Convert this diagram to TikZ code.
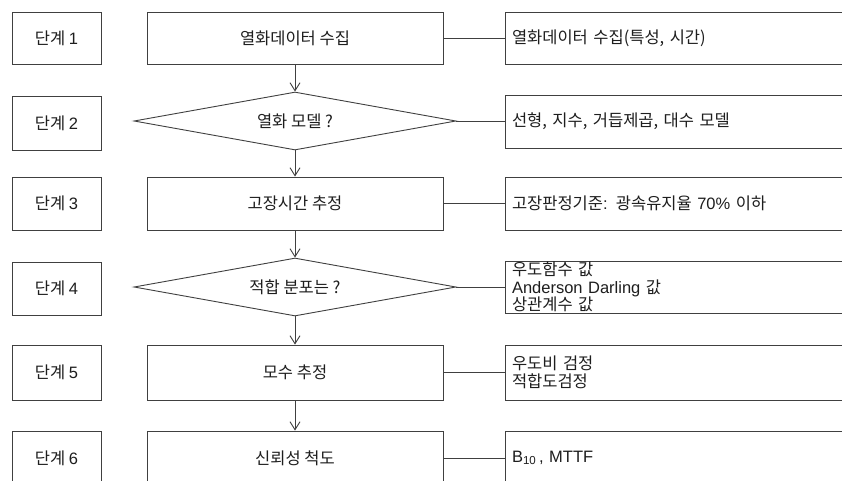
\documentclass[tikz,border=0pt]{standalone}
\usepackage{fontspec}
\setmainfont{Noto Sans CJK KR}
\newfontfamily\lat{Liberation Sans}
\usetikzlibrary{shapes.geometric,arrows.meta}
\definecolor{lc}{HTML}{404040}
\definecolor{tc}{HTML}{1E1E1E}
\begin{document}
\begin{tikzpicture}[x=1pt,y=-1pt,line width=0.9pt,
  box/.style={draw=lc,fill=white,inner sep=0pt,text=tc,font=\fontsize{16.5}{17.5}\selectfont},
  stepbox/.style={box,minimum width=89pt},
  mainbox/.style={box,minimum width=296pt},
  decision/.style={box,diamond,aspect=5.5,minimum width=322pt,minimum height=58pt},
  sidebox/.style={box,minimum width=360pt,text width=346pt,inner xsep=7pt,align=left},
  arr/.style={draw=lc,-{Straight Barb[length=8pt,width=10pt]}},
  conn/.style={draw=lc}]
\useasboundingbox (0,0) rectangle (842,480);
\clip (0,0) rectangle (842,480);
\fill[white] (0,0) rectangle (842,480);
% step boxes
\node[stepbox,minimum height=52pt] (s1) at (56.5,38) {단계 {\lat 1}};
\node[stepbox,minimum height=54pt] (s2) at (56.5,123) {단계 {\lat 2}};
\node[stepbox,minimum height=53pt] (s3) at (56.5,203.5) {단계 {\lat 3}};
\node[stepbox,minimum height=53pt] (s4) at (56.5,288.5) {단계 {\lat 4}};
\node[stepbox,minimum height=55pt] (s5) at (56.5,372.5) {단계 {\lat 5}};
\node[stepbox,minimum height=54pt] (s6) at (56.5,458) {단계 {\lat 6}};
% main column
\node[mainbox,minimum height=52pt] (m1) at (295,38) {열화데이터 수집};
\node[decision] (d2) at (295,121) {열화 모델 ?};
\node[mainbox,minimum height=53pt] (m3) at (295,203.5) {고장시간 추정};
\node[decision] (d4) at (295,287) {적합 분포는 ?};
\node[mainbox,minimum height=55pt] (m5) at (295,372.5) {모수 추정};
\node[mainbox,minimum height=54pt] (m6) at (295,458) {신뢰성 척도};
% side boxes
\node[sidebox,minimum height=52pt] (r1) at (685,38) {열화데이터 수집(특성, 시간)};
\node[sidebox,minimum height=53pt] (r2) at (685,121.5) {선형, 지수, 거듭제곱, 대수 모델};
\node[sidebox,minimum height=53pt] (r3) at (685,203.5) {고장판정기준{\lat :} 광속유지율 {\lat 70\%} 이하};
\node[sidebox,minimum height=52pt] (r4) at (685,287) {우도함수 값\\{\lat Anderson Darling} 값\\상관계수 값};
\node[sidebox,minimum height=55pt] (r5) at (685,372.5) {우도비 검정\\적합도검정};
\node[sidebox,minimum height=54pt] (r6) at (685,458) {{\lat B\textsubscript{10}\,, MTTF}};
% arrows
\draw[arr] (m1.south) -- (d2.north);
\draw[arr] (d2.south) -- (m3.north);
\draw[arr] (m3.south) -- (d4.north);
\draw[arr] (d4.south) -- (m5.north);
\draw[arr] (m5.south) -- (m6.north);
% side connectors
\draw[conn] (m1.east) -- (m1.east -| r1.west);
\draw[conn] (d2.east) -- (d2.east -| r2.west);
\draw[conn] (m3.east) -- (m3.east -| r3.west);
\draw[conn] (d4.east) -- (d4.east -| r4.west);
\draw[conn] (m5.east) -- (m5.east -| r5.west);
\draw[conn] (m6.east) -- (m6.east -| r6.west);
\end{tikzpicture}
\end{document}
